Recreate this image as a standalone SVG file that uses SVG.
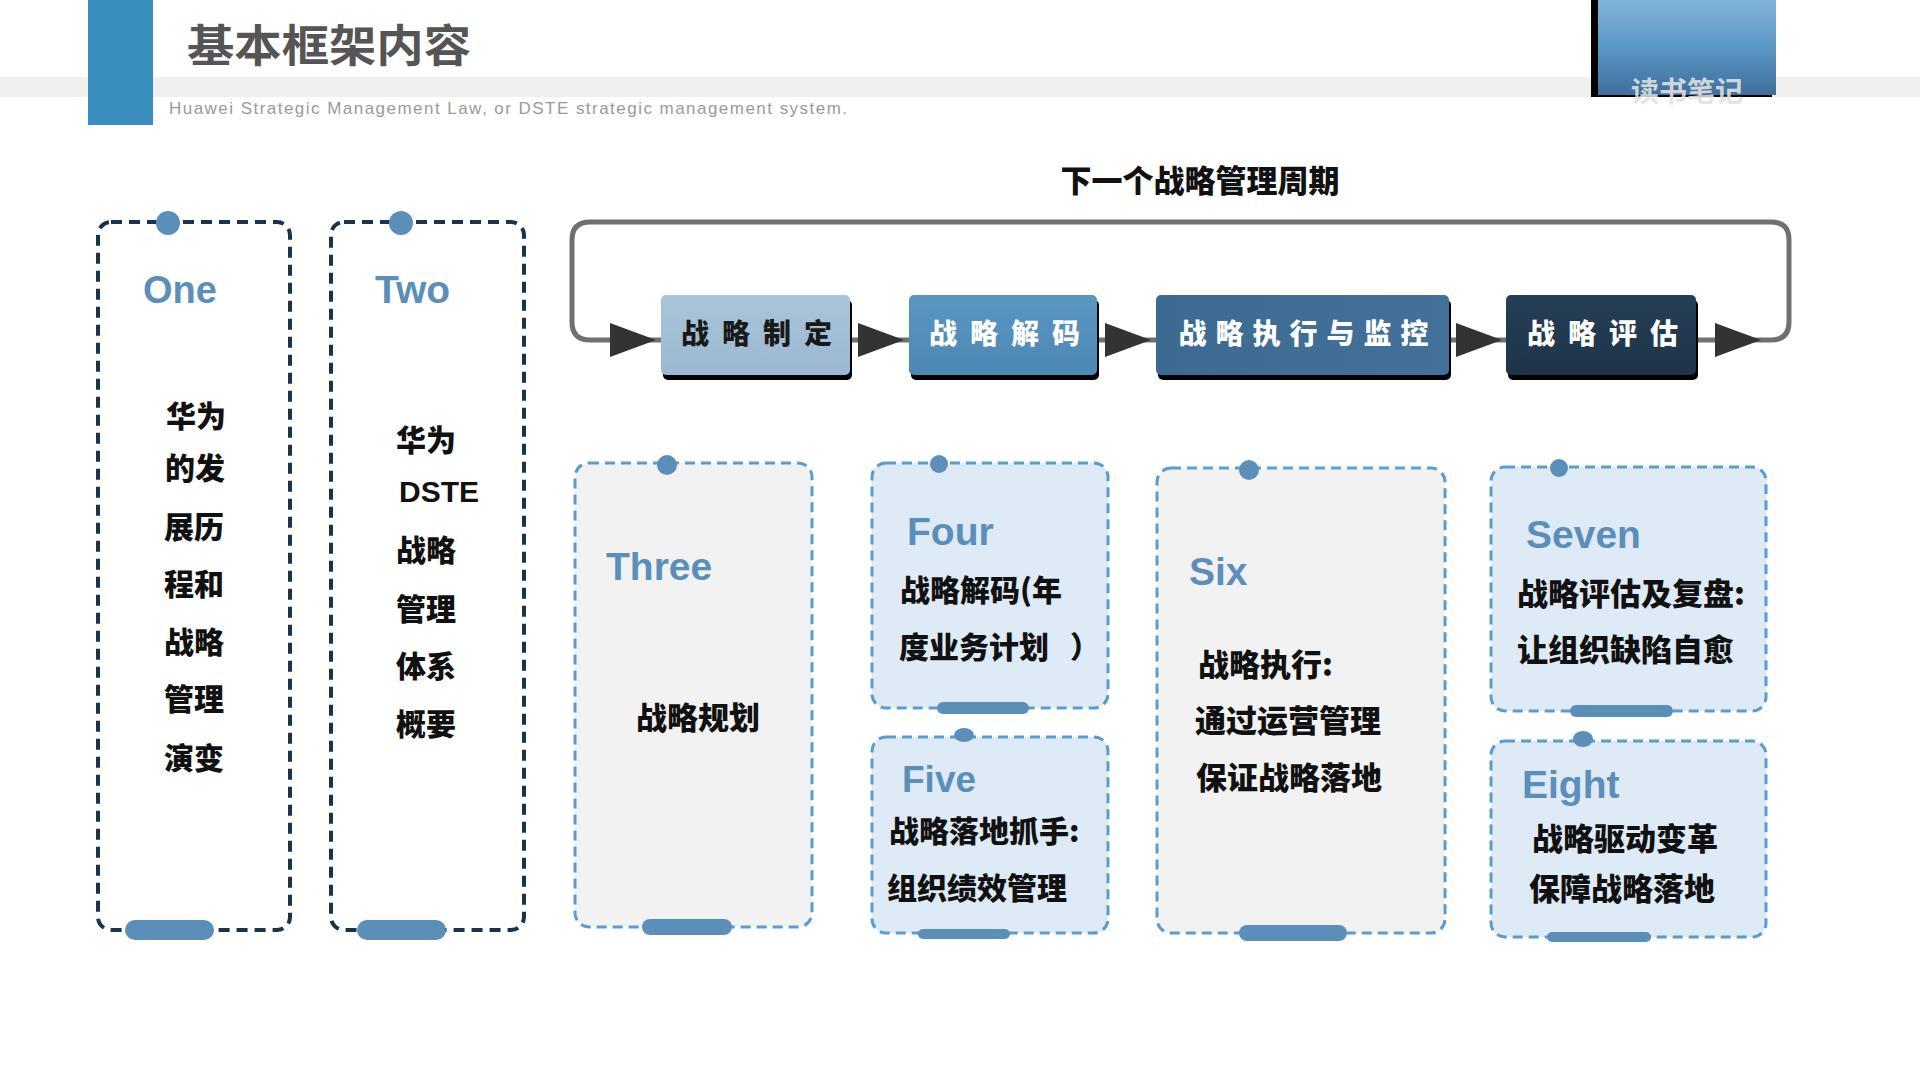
<svg xmlns="http://www.w3.org/2000/svg" width="1920" height="1080" viewBox="0 0 1920 1080">
<defs>
<linearGradient id="gTag" x1="0" y1="0" x2="0" y2="1">
<stop offset="0" stop-color="#82b3d8"/><stop offset="0.5" stop-color="#5a97c5"/><stop offset="1" stop-color="#3f6f9c"/>
</linearGradient>
<linearGradient id="g1" x1="0" y1="0" x2="0" y2="1"><stop offset="0" stop-color="#a9c5dc"/><stop offset="1" stop-color="#9cb8d0"/></linearGradient>
<linearGradient id="g2" x1="0" y1="0" x2="0" y2="1"><stop offset="0" stop-color="#5b95c2"/><stop offset="1" stop-color="#4d87b3"/></linearGradient>
<linearGradient id="g3" x1="0" y1="0" x2="1" y2="0"><stop offset="0" stop-color="#3d6a90"/><stop offset="1" stop-color="#44719a"/></linearGradient>
<linearGradient id="g4" x1="0" y1="0" x2="0" y2="1"><stop offset="0" stop-color="#253f57"/><stop offset="1" stop-color="#1e3448"/></linearGradient>
<polygon id="tri" points="0,0 -46,-17 -46,17" fill="#333333"/>
</defs>
<style>
.cjk{font-family:"Noto Sans CJK SC","Noto Sans",sans-serif;font-weight:900;fill:#111}
.en{font-family:"Liberation Sans",Arial,sans-serif;font-weight:700;fill:#5b8fba}
.darkbox{fill:#ffffff;stroke:#17334d;stroke-width:4;stroke-dasharray:11 7}
.lightbox{stroke:#5b9bd0;stroke-width:3;stroke-dasharray:10 6}
.grey{fill:#f2f2f2}
.blue{fill:#deeaf6}
.acc{fill:#5b8fba}
.flow{font-family:"Noto Sans CJK SC",sans-serif;font-weight:900;font-size:28px;fill:#ffffff}
.loop{fill:none;stroke:#707070;stroke-width:5}
</style>
<rect width="1920" height="1080" fill="#ffffff"/>
<g id="header">
<rect x="0" y="77" width="1920" height="20" fill="#f0f0f0"/>
<rect x="88" y="0" width="65" height="125" fill="#3a8fc0"/>
<text x="187" y="62" font-family="'Noto Sans CJK SC',sans-serif" font-weight="700" font-size="44" fill="#555555" textLength="284" lengthAdjust="spacingAndGlyphs">基本框架内容</text>
<text x="169" y="114" font-family="'Liberation Sans',Arial,sans-serif" font-size="17" fill="#9a9a9a" textLength="678" lengthAdjust="spacing">Huawei Strategic Management Law, or DSTE strategic management system.</text>
<rect x="1591" y="0" width="181" height="97" fill="#000000"/>
<rect x="1598" y="0" width="178" height="95" fill="url(#gTag)"/>
<text x="1687" y="102" text-anchor="middle" font-family="'Noto Sans CJK SC',sans-serif" font-weight="700" font-size="28" fill="#e2e2e2" fill-opacity="0.9">读书笔记</text>
</g>
<text x="1200" y="192" text-anchor="middle" class="cjk" font-size="31">下一个战略管理周期</text>
<g id="connectors">
<path class="loop" d="M1696 340 H1771 Q1789 340 1789 322 V240 Q1789 222 1771 222 H590 Q572 222 572 240 V322 Q572 340 590 340 H661"/>
<path class="loop" d="M850 340 H909 M1097 340 H1156 M1449 340 H1506"/>
<use href="#tri" x="656" y="340"/>
<use href="#tri" x="904" y="340"/>
<use href="#tri" x="1151" y="340"/>
<use href="#tri" x="1502" y="340"/>
<use href="#tri" x="1761" y="340"/>
</g>
<g id="flow1">
<rect x="663" y="300" width="189" height="80" rx="5" fill="#000"/>
<rect x="661" y="295" width="189" height="80" rx="5" fill="url(#g1)"/>
<text x="763" y="344" text-anchor="middle" class="flow" style="fill:#1a1a1a" letter-spacing="13">战略制定</text>
</g>
<g id="flow2">
<rect x="911" y="300" width="188" height="80" rx="5" fill="#000"/>
<rect x="909" y="295" width="188" height="80" rx="5" fill="url(#g2)"/>
<text x="1011" y="344" text-anchor="middle" class="flow" letter-spacing="13">战略解码</text>
</g>
<g id="flow3">
<rect x="1158" y="300" width="293" height="80" rx="5" fill="#000"/>
<rect x="1156" y="295" width="293" height="80" rx="5" fill="url(#g3)"/>
<text x="1308" y="344" text-anchor="middle" class="flow" letter-spacing="9">战略执行与监控</text>
</g>
<g id="flow4">
<rect x="1508" y="300" width="190" height="80" rx="5" fill="#000"/>
<rect x="1506" y="295" width="190" height="80" rx="5" fill="url(#g4)"/>
<text x="1609" y="344" text-anchor="middle" class="flow" letter-spacing="13">战略评估</text>
</g>
<g id="node-one">
<rect class="darkbox" x="98" y="222" width="192" height="708" rx="13"/>
<circle class="acc" cx="168" cy="223" r="12"/>
<rect class="acc" x="125" y="920" width="89" height="20" rx="10"/>
<text class="en" x="143" y="303" font-size="38">One</text>
<g class="cjk" font-size="30" text-anchor="middle">
<text x="196" y="427">华为</text>
<text x="195" y="479">的发</text>
<text x="194" y="538">展历</text>
<text x="194" y="595">程和</text>
<text x="194" y="653">战略</text>
<text x="194" y="710">管理</text>
<text x="194" y="769">演变</text>
</g>
</g>
<g id="node-two">
<rect class="darkbox" x="331" y="222" width="193" height="708" rx="13"/>
<circle class="acc" cx="401" cy="223" r="12"/>
<rect class="acc" x="357" y="920" width="89" height="20" rx="10"/>
<text class="en" x="375" y="303" font-size="39">Two</text>
<g class="cjk" font-size="30" text-anchor="middle">
<text x="426" y="451">华为</text>
<text x="439" y="502" font-family="'Liberation Sans',Arial,sans-serif" font-weight="700" font-size="30">DSTE</text>
<text x="426" y="561">战略</text>
<text x="426" y="620">管理</text>
<text x="426" y="677">体系</text>
<text x="426" y="735">概要</text>
</g>
</g>
<g id="node-three">
<rect class="lightbox grey" x="575" y="463" width="237" height="464" rx="14"/>
<circle class="acc" cx="667" cy="465" r="10"/>
<rect class="acc" x="642" y="919" width="90" height="16" rx="8"/>
<text class="en" x="606" y="580" font-size="39">Three</text>
<text class="cjk" x="698" y="729" font-size="31" text-anchor="middle">战略规划</text>
</g>
<g id="node-four">
<rect class="lightbox blue" x="872" y="463" width="236" height="245" rx="14"/>
<circle class="acc" cx="939" cy="464" r="9"/>
<rect class="acc" x="937" y="702" width="92" height="12" rx="6"/>
<text class="en" x="907" y="545" font-size="39">Four</text>
<text class="cjk" x="900" y="601" font-size="30">战略解码(年</text>
<text class="cjk" x="899" y="658" font-size="30">度业务计划 <tspan x="1070">）</tspan></text>
</g>
<g id="node-five">
<rect class="lightbox blue" x="872" y="737" width="236" height="196" rx="14"/>
<ellipse class="acc" cx="964" cy="735" rx="10" ry="7"/>
<rect class="acc" x="918" y="929" width="92" height="10" rx="5"/>
<text class="en" x="902" y="792" font-size="37">Five</text>
<text class="cjk" x="889" y="842" font-size="30">战略落地抓手:</text>
<text class="cjk" x="887" y="899" font-size="30">组织绩效管理</text>
</g>
<g id="node-six">
<rect class="lightbox grey" x="1157" y="468" width="288" height="465" rx="14"/>
<circle class="acc" cx="1249" cy="470" r="10"/>
<rect class="acc" x="1239" y="925" width="108" height="16" rx="8"/>
<text class="en" x="1189" y="585" font-size="39">Six</text>
<text class="cjk" x="1198" y="676" font-size="31">战略执行:</text>
<text class="cjk" x="1195" y="732" font-size="31">通过运营管理</text>
<text class="cjk" x="1196" y="789" font-size="31">保证战略落地</text>
</g>
<g id="node-seven">
<rect class="lightbox blue" x="1491" y="467" width="275" height="244" rx="14"/>
<circle class="acc" cx="1559" cy="468" r="9"/>
<rect class="acc" x="1570" y="705" width="103" height="12" rx="6"/>
<text class="en" x="1526" y="548" font-size="39">Seven</text>
<text class="cjk" x="1517" y="605" font-size="31">战略评估及复盘:</text>
<text class="cjk" x="1517" y="661" font-size="31">让组织缺陷自愈</text>
</g>
<g id="node-eight">
<rect class="lightbox blue" x="1491" y="741" width="275" height="196" rx="14"/>
<ellipse class="acc" cx="1583" cy="739" rx="10" ry="8"/>
<rect class="acc" x="1547" y="932" width="104" height="10" rx="5"/>
<text class="en" x="1522" y="798" font-size="39">Eight</text>
<text class="cjk" x="1532" y="850" font-size="31">战略驱动变革</text>
<text class="cjk" x="1529" y="900" font-size="31">保障战略落地</text>
</g>
</svg>
